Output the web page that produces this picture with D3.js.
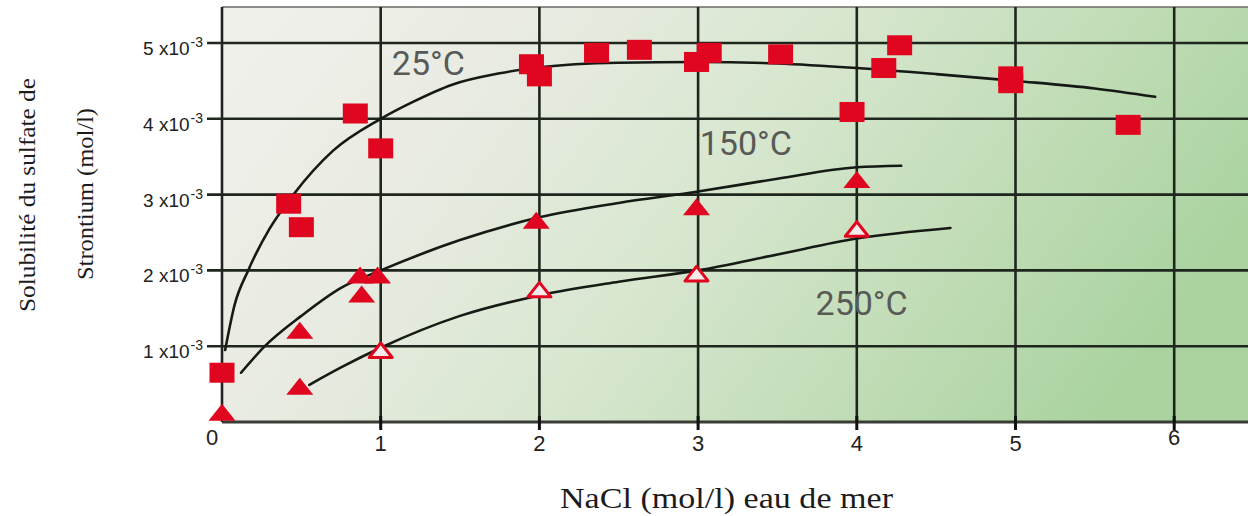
<!DOCTYPE html>
<html>
<head>
<meta charset="utf-8">
<script src="https://cdn.jsdelivr.net/npm/d3@7"></script>
<style>
  html, body { margin: 0; padding: 0; background: #ffffff; }
  svg { display: block; }
</style>
</head>
<body>
<svg id="chart" width="1248" height="516"></svg>
<script>
// Axis ticks
const xTicks = [0, 1, 2, 3, 4, 5, 6];
const yTicks = [1, 2, 3, 4, 5]; // in units of 10^-3 mol/l

// 25°C measurements (squares)
const sq25X = [0.00, 0.42, 0.50, 0.84, 1.00, 1.95, 2.00, 2.36, 2.63, 2.99, 3.07, 3.52, 3.97, 4.17, 4.27, 4.97, 4.97, 5.71];
const sq25Y = [0.65, 2.88, 2.57, 4.07, 3.61, 4.72, 4.56, 4.87, 4.91, 4.75, 4.87, 4.85, 4.09, 4.67, 4.97, 4.56, 4.47, 3.92];

// solid triangles
const solidTriX = [0.00, 0.49, 0.49, 0.87, 0.98, 0.88, 1.98, 2.99, 4.00];
const solidTriY = [0.13, 1.21, 0.47, 1.94, 1.94, 1.69, 2.66, 2.84, 3.20];

// open triangles (250°C)
const openTriX = [1.00, 2.00, 2.99, 4.00];
const openTriY = [0.95, 1.75, 1.96, 2.55];

// fitted curves
const curve25X = [0.02, 0.08, 0.165, 0.30, 0.45, 0.70, 1.00, 1.20, 1.45, 1.75, 2.00, 2.50, 3.00, 3.50, 4.00, 4.50, 5.00, 5.50, 5.88];
const curve25Y = [0.95, 1.55, 2.00, 2.55, 3.00, 3.58, 4.00, 4.22, 4.45, 4.60, 4.68, 4.74, 4.75, 4.73, 4.67, 4.59, 4.50, 4.40, 4.29];
const curve150X = [0.12, 0.27, 0.50, 0.75, 1.00, 1.50, 2.00, 2.50, 3.00, 3.50, 4.00, 4.28];
const curve150Y = [0.65, 1.00, 1.40, 1.77, 2.00, 2.40, 2.70, 2.89, 3.04, 3.21, 3.36, 3.38];
const curve250X = [0.55, 0.75, 1.00, 1.50, 2.00, 2.50, 3.00, 3.50, 4.00, 4.59];
const curve250Y = [0.49, 0.72, 0.98, 1.40, 1.67, 1.85, 2.00, 2.21, 2.42, 2.56];

// curve labels
const labelText = ["25°C", "150°C", "250°C"];
const labelX = [1.07, 3.01, 3.74];
const labelY = [4.58, 3.52, 1.41];

const svg = d3.select("#chart");
const plot = { left: 222, top: 7, right: 1248, bottom: 422 };

const x = d3.scaleLinear().domain([0, 6.465]).range([plot.left, plot.right]);
const y = d3.scaleLinear().domain([0, 5.475]).range([plot.bottom, plot.top]);

// background gradient, pale grey at the left turning green to the right
const defs = svg.append("defs");
const grad = defs.append("linearGradient")
  .attr("id", "bg").attr("x1", "0").attr("y1", "0.2").attr("x2", "1").attr("y2", "0.5");
[["0", "#f0f0ea"], ["0.25", "#e8ebe1"], ["0.5", "#d8e7d0"], ["0.75", "#c2ddb8"], ["1", "#aad3a0"]]
  .forEach(([o, c]) => grad.append("stop").attr("offset", o).attr("stop-color", c));

svg.append("rect")
  .attr("x", plot.left).attr("y", plot.top)
  .attr("width", plot.right - plot.left).attr("height", plot.bottom - plot.top)
  .attr("fill", "url(#bg)");

// top border
svg.append("line")
  .attr("x1", plot.left).attr("x2", plot.right)
  .attr("y1", plot.top).attr("y2", plot.top)
  .attr("stroke", "#6a6a66").attr("stroke-width", 1.5);

// grid
const grid = svg.append("g").attr("stroke", "#1e261e").attr("stroke-width", 2.6);
grid.selectAll("line.h").data(yTicks).join("line")
  .attr("x1", x(0) - 15).attr("x2", plot.right)
  .attr("y1", d => y(d)).attr("y2", d => y(d));
grid.selectAll("line.v").data(xTicks).join("line")
  .attr("y1", plot.top).attr("y2", plot.bottom)
  .attr("x1", d => x(d)).attr("x2", d => x(d));

// x axis baseline and ticks
svg.append("line")
  .attr("x1", plot.left).attr("x2", plot.right)
  .attr("y1", plot.bottom).attr("y2", plot.bottom)
  .attr("stroke", "#3a3d36").attr("stroke-width", 3);
svg.append("g").selectAll("line").data(xTicks.filter(d => d > 0)).join("line")
  .attr("x1", d => x(d)).attr("x2", d => x(d))
  .attr("y1", plot.bottom - 6).attr("y2", plot.bottom + 8)
  .attr("stroke", "#111").attr("stroke-width", 3);

// x tick labels
svg.append("g").selectAll("text").data(xTicks).join("text")
  .attr("x", d => x(d) + (d === 0 ? -10 : 0))
  .attr("y", d => (d === 0 || d === 6) ? 445 : 451)
  .attr("text-anchor", "middle")
  .attr("font-family", "'Liberation Sans', Arial, sans-serif")
  .attr("font-size", 22)
  .attr("fill", "#222")
  .text(d => d);

// y tick labels: n x10^-3
const yl = svg.append("g").selectAll("text").data(yTicks).join("text")
  .attr("x", 203)
  .attr("y", d => y(d) + 12)
  .attr("text-anchor", "end")
  .attr("font-family", "'Liberation Sans', Arial, sans-serif")
  .attr("font-size", 19)
  .attr("fill", "#222");
yl.append("tspan").text(d => d + " x10");
yl.append("tspan").attr("font-size", 14).attr("dy", -8).attr("dx", 1).text("-3");

// curves
const line = d3.line().x(d => x(d[0])).y(d => y(d[1])).curve(d3.curveMonotoneX);
const curves = [
  d3.zip(curve25X, curve25Y),
  d3.zip(curve150X, curve150Y),
  d3.zip(curve250X, curve250Y)
];
svg.append("g").selectAll("path").data(curves).join("path")
  .attr("d", line)
  .attr("fill", "none")
  .attr("stroke", "#151a15")
  .attr("stroke-width", 2.6)
  .attr("stroke-linecap", "round");

// markers
const red = "#e0061f";
const triPath = "M-13.5,8.5L0,-8.5L13.5,8.5Z";

svg.append("g").selectAll("rect").data(d3.zip(sq25X, sq25Y)).join("rect")
  .attr("x", d => x(d[0]) - 12.5)
  .attr("y", d => y(d[1]) - 10)
  .attr("width", 25).attr("height", 20)
  .attr("fill", red);

svg.append("g").selectAll("path").data(d3.zip(solidTriX, solidTriY)).join("path")
  .attr("d", triPath)
  .attr("transform", d => `translate(${x(d[0])},${y(d[1])})`)
  .attr("fill", red);

svg.append("g").selectAll("path").data(d3.zip(openTriX, openTriY)).join("path")
  .attr("d", "M-11.5,7.5L0,-7L11.5,7.5Z")
  .attr("transform", d => `translate(${x(d[0])},${y(d[1])})`)
  .attr("fill", "#f6ecec")
  .attr("stroke", red)
  .attr("stroke-width", 3)
  .attr("stroke-linejoin", "round");

// curve labels
svg.append("g").selectAll("text").data(d3.range(labelText.length)).join("text")
  .attr("x", i => x(labelX[i]))
  .attr("y", i => y(labelY[i]))
  .attr("font-family", "Roboto, 'Liberation Sans', sans-serif")
  .attr("font-size", 34)
  .attr("fill", "#575a56")
  .text(i => labelText[i]);

// axis titles
const serif = "'Liberation Serif', 'Times New Roman', serif";
svg.append("text")
  .attr("x", 560).attr("y", 508)
  .attr("font-family", serif)
  .attr("font-size", 29)
  .attr("textLength", 333)
  .attr("lengthAdjust", "spacingAndGlyphs")
  .attr("fill", "#1c1c1c")
  .text("NaCl (mol/l) eau de mer");

svg.append("text")
  .attr("transform", "translate(35,312) rotate(-90)")
  .attr("font-family", serif)
  .attr("font-size", 23)
  .attr("textLength", 234)
  .attr("lengthAdjust", "spacingAndGlyphs")
  .attr("fill", "#1c1c1c")
  .text("Solubilité du sulfate de");

svg.append("text")
  .attr("transform", "translate(93,280) rotate(-90)")
  .attr("font-family", serif)
  .attr("font-size", 23)
  .attr("textLength", 172)
  .attr("lengthAdjust", "spacingAndGlyphs")
  .attr("fill", "#1c1c1c")
  .text("Strontium (mol/l)");
</script>
</body>
</html>
